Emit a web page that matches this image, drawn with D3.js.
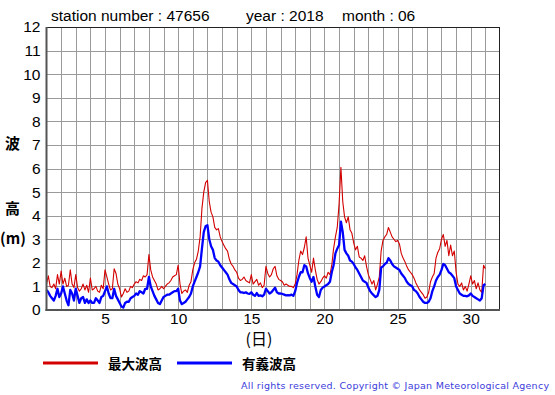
<!DOCTYPE html>
<html><head><meta charset="utf-8">
<script src="https://cdn.jsdelivr.net/npm/d3@7"></script>
<style>
html,body{margin:0;padding:0;background:#fff;}
svg{display:block;}
</style></head>
<body>
<script>
// ---- data (3-hourly values, day 1 00h .. day 31 00h) ----
const maxWave = [
1.1,1.45,1.0,0.95,1.1,0.9,1.5,1.1,
1.65,1.1,1.35,1.0,1.05,1.7,1.1,0.95,
1.5,0.95,0.8,0.9,1.1,0.85,1.05,0.75,
1.35,0.85,0.9,1.0,0.8,0.75,1.05,0.9,
1.7,1.4,1.1,0.85,0.9,1.75,1.55,1.1,
0.9,0.55,0.7,0.9,0.75,0.8,1.0,0.95,
1.1,1.2,1.15,1.3,1.25,1.45,1.4,1.5,
2.35,1.7,1.4,1.25,1.1,0.85,0.9,1.0,
0.9,1.0,1.1,1.15,1.25,1.4,1.45,1.5,
1.9,1.1,0.7,0.8,0.85,0.75,1.05,1.2,
1.7,2.0,2.15,2.5,3.1,4.3,5.0,5.4,
5.5,4.6,4.15,3.95,3.5,3.4,3.45,3.1,
2.9,2.75,2.6,2.5,2.15,1.95,1.85,1.7,
1.6,1.35,1.25,1.3,1.4,1.25,1.2,1.15,
1.5,1.1,1.2,1.3,1.05,1.15,0.95,1.05,
1.85,1.55,1.4,1.5,1.75,1.85,1.45,1.3,
1.25,1.2,1.05,1.1,1.05,1.0,1.0,0.95,
1.1,1.5,2.1,2.5,2.35,2.65,3.1,2.2,
1.9,1.6,2.2,1.7,1.3,1.1,1.2,1.35,
1.45,1.35,1.6,1.5,1.9,2.6,3.1,3.5,
4.5,6.05,4.6,3.95,3.7,3.95,3.4,3.25,
2.85,2.55,2.7,2.25,2.2,2.1,2.3,1.85,
1.5,1.3,1.1,1.25,0.85,1.1,1.4,2.5,
2.95,3.1,3.2,3.5,3.3,3.1,3.0,2.9,
2.95,2.8,2.4,2.2,2.05,1.85,1.7,1.6,
1.5,1.35,1.15,1.0,0.85,0.75,0.65,0.5,
0.55,0.75,1.2,1.4,1.55,2.2,2.45,2.6,
3.0,3.2,2.7,2.95,2.3,2.75,2.3,2.5,
1.6,1.1,1.0,1.15,0.85,1.0,0.8,1.1,
1.45,1.1,1.25,0.9,1.15,0.85,0.75,1.9,
1.75];
const sigWave = [
0.85,0.75,0.6,0.5,0.4,0.6,0.9,0.55,
0.7,1.0,0.7,0.4,0.2,0.85,0.7,0.4,
0.9,0.6,0.3,0.5,0.55,0.3,0.45,0.3,
0.4,0.3,0.3,0.5,0.4,0.3,0.55,0.6,
0.8,1.0,0.7,0.5,0.5,0.9,0.6,0.45,
0.3,0.15,0.1,0.3,0.35,0.35,0.5,0.55,
0.6,0.7,0.65,0.8,0.75,0.7,0.9,0.9,
1.4,1.0,0.8,0.6,0.45,0.3,0.25,0.4,
0.55,0.6,0.65,0.65,0.7,0.75,0.8,0.8,
0.9,0.4,0.25,0.3,0.35,0.45,0.55,0.7,
1.0,1.2,1.4,1.6,1.85,2.6,3.3,3.55,
3.6,3.0,2.7,2.55,2.2,2.1,2.05,1.9,
1.8,1.7,1.6,1.5,1.3,1.15,1.1,1.05,
1.0,0.85,0.75,0.75,0.72,0.75,0.7,0.68,
0.75,0.65,0.6,0.72,0.6,0.62,0.58,0.65,
0.9,0.8,0.7,0.75,0.85,0.95,0.75,0.7,
0.7,0.68,0.65,0.62,0.63,0.62,0.65,0.6,
0.8,1.15,1.4,1.6,1.6,1.9,1.85,1.55,
1.35,1.2,1.4,1.0,0.65,0.55,0.85,0.95,
1.0,1.05,1.1,1.2,1.6,1.9,2.4,2.6,
2.75,3.75,3.3,2.55,2.4,2.3,2.1,2.05,
1.95,1.8,1.7,1.55,1.4,1.25,1.2,1.15,
0.95,0.8,0.7,0.62,0.55,0.6,0.85,1.8,
1.85,1.95,2.0,2.2,2.1,1.95,1.85,1.8,
1.75,1.7,1.55,1.45,1.35,1.2,1.1,1.05,
1.0,0.85,0.8,0.7,0.55,0.45,0.35,0.3,
0.3,0.35,0.5,0.8,1.0,1.25,1.4,1.5,
1.7,1.95,1.9,1.75,1.6,1.55,1.45,1.35,
1.0,0.85,0.7,0.65,0.6,0.6,0.58,0.62,
0.7,0.6,0.55,0.5,0.45,0.4,0.5,1.05,
1.1];
const stepsPerDay = 8;
const xTickValues = [5,10,15,20,25,30];
const yTickValues = [0,1,2,3,4,5,6,7,8,9,10,11,12];
const gridDays = [2,3,4,5,6,7,8,9,10,11,12,13,14,15,16,17,18,19,20,21,22,23,24,25,26,27,28,29,30,31];
const titleParts = ["station number : 47656","year : 2018","month : 06"];
const legendItems = [{name:"最大波高",color:"#d40000"},{name:"有義波高",color:"#0000ff"}];

// ---- layout ----
const W=555,H=395;
const L=46.5,R=500,T=27,B=310;
const svg=d3.select("body").append("svg").attr("width",W).attr("height",H);
const x=d3.scaleLinear().domain([1,32]).range([L,R]);
const y=d3.scaleLinear().domain([0,12]).range([B,T]);
const numFont="'Liberation Sans', Arial, sans-serif";
const cjkFont="'Noto Sans CJK JP','Noto Sans CJK SC',sans-serif";

// grid
const g=svg.append("g");
g.selectAll("line.v").data(gridDays).enter().append("line")
 .attr("x1",d=>Math.round(x(d))+0.5).attr("x2",d=>Math.round(x(d))+0.5)
 .attr("y1",T).attr("y2",B).attr("stroke","#9a9a9a").attr("stroke-width",1);
g.selectAll("line.h").data(yTickValues.filter(v=>v>0&&v<12)).enter().append("line")
 .attr("x1",L).attr("x2",R)
 .attr("y1",d=>Math.round(y(d))+0.5).attr("y2",d=>Math.round(y(d))+0.5)
 .attr("stroke","#9a9a9a").attr("stroke-width",1);

// frame
svg.append("line").attr("x1",L).attr("x2",R).attr("y1",T+0.5).attr("y2",T+0.5).attr("stroke","#222");
svg.append("line").attr("x1",R-0.5).attr("x2",R-0.5).attr("y1",T).attr("y2",B).attr("stroke","#222");

// series
const pts=arr=>arr.map((v,i)=>[1+i/stepsPerDay,v]);
const line=d3.line().x(d=>x(d[0])).y(d=>y(d[1]));
svg.append("path").datum(pts(maxWave)).attr("d",line)
 .attr("fill","none").attr("stroke",legendItems[0].color).attr("stroke-width",1.1).attr("stroke-linejoin","round");
svg.append("path").datum(pts(sigWave)).attr("d",line)
 .attr("fill","none").attr("stroke",legendItems[1].color).attr("stroke-width",2.3).attr("stroke-linejoin","round");

// axes lines (thick dark)
svg.append("line").attr("x1",L).attr("x2",L).attr("y1",T).attr("y2",B+1).attr("stroke","#555").attr("stroke-width",2);
svg.append("line").attr("x1",L-1).attr("x2",R).attr("y1",B).attr("y2",B).attr("stroke","#555").attr("stroke-width",2);

// axis labels via d3 axes
const ya=svg.append("g").attr("transform",`translate(${L},0)`)
 .call(d3.axisLeft(y).tickValues(yTickValues).tickSize(0).tickPadding(6).tickFormat(d3.format("d")));
ya.select(".domain").remove();
ya.selectAll("text").attr("font-family",numFont).attr("font-size",15.5).attr("fill","#000");
const xa=svg.append("g").attr("transform",`translate(0,${B})`)
 .call(d3.axisBottom(x).tickValues(xTickValues).tickSize(0).tickPadding(3).tickFormat(d3.format("d")));
xa.select(".domain").remove();
xa.selectAll("text").attr("font-family",numFont).attr("font-size",15.5).attr("fill","#000");

// title
const titleX=[51,246,342];
svg.selectAll("text.title").data(titleParts).enter().append("text")
 .attr("x",(d,i)=>titleX[i]).attr("y",21).text(d=>d)
 .attr("font-family",numFont).attr("font-size",15.5).attr("fill","#000");

// y label
[["波",142],["高",207]].forEach(([t,cy])=>{
 svg.append("text").attr("x",12.5).attr("y",cy).attr("text-anchor","middle").attr("dominant-baseline","central")
  .attr("font-family",cjkFont).attr("font-weight","bold").attr("font-size",15).text(t);
});
svg.append("text").attr("x",13).attr("y",237).attr("text-anchor","middle").attr("dominant-baseline","central")
 .attr("font-family",cjkFont).attr("font-weight","bold").attr("font-size",15).text("(m)");

// x label
svg.append("text").attr("x",259).attr("y",338).attr("text-anchor","middle").attr("dominant-baseline","central")
 .attr("font-family",cjkFont).attr("font-size",16).text("(日)");

// legend
const legX=[43,177];
legendItems.forEach((d,i)=>{
 svg.append("line").attr("x1",legX[i]).attr("x2",legX[i]+55).attr("y1",363).attr("y2",363)
  .attr("stroke",d.color).attr("stroke-width",3);
 svg.append("text").attr("x",legX[i]+65).attr("y",363).attr("dominant-baseline","central")
  .attr("font-family",cjkFont).attr("font-weight","bold").attr("font-size",13.5).text(d.name);
});

// copyright
svg.append("text").attr("x",241).attr("y",389).attr("font-family","'DejaVu Sans',Verdana,sans-serif")
 .attr("font-size",9.5).attr("fill","#3c3cdc").attr("textLength",308).attr("lengthAdjust","spacing")
 .text("All rights reserved. Copyright © Japan Meteorological Agency");
</script>
</body></html>
